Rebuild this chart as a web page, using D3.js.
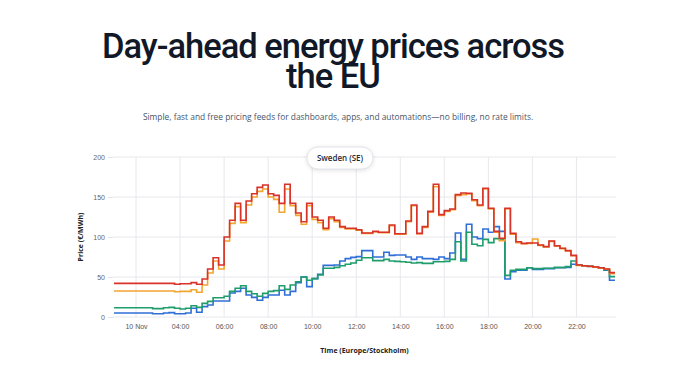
<!DOCTYPE html>
<html>
<head>
<meta charset="utf-8">
<script src="https://cdn.jsdelivr.net/npm/d3@7"></script>
<style>
  body { margin: 0; background: #fff; font-family: "Open Sans", sans-serif; }
</style>
</head>
<body>
<div id="chart"></div>
<script>
// Data: day-ahead prices, 15 minute steps starting 01:00 (hours on the axis)
const zones = ["SE1", "SE2", "SE3", "SE4"];
const colors = ["#2f6fd6", "#1f9d6b", "#f2a531", "#d9322b"];
const startHour = 1;
const stepHours = 0.25;

const se4 = [42,42,42,42,42,42,42,42,42,42,42,41,41.5,41.5,43,41,
  47.5,60,74,65,100,121,142,121,145,154,162,165,154,152,142,166,142,130,119,142,
  125,121,111,125,121,113,111,111,109,105,105,107,106,106,115,104,104,
  120,140,104.5,113,132,166,128,133,135,153,155,154.5,146.5,140,161,136,107,98.5,136,
  104.5,94,92,92.5,92.5,90,88,95,89,86,83,77,65,64,63.5,62.5,61.5,60,55.5,55.5];
const se3 = [32.5,32.5,32.5,32.5,32.5,32.5,32.5,32.5,32.5,32.5,32.5,31.5,32,32,34,31,
  40,55,70,60,95,117,138,118,140,150,157,160,150,147,131,160,139,127,116,139,
  122,118,109,123,119,112,110,110,108.5,104.5,104.5,106.5,105.5,105.5,114,103.5,103.5,
  119,139,104,112,131,163,127,132,134,152,153,154,145.5,139,160,135,106,95.5,135,
  103.5,93,91.5,92,97.5,89.5,87.5,94.5,88.5,85.5,82.5,76.5,64.5,63.8,63.2,62.3,61.3,59.8,54,54];
const se2 = [11.5,11.5,11.5,11.5,11.5,11.5,11.5,10.5,10.5,11.5,12,11,10,11,14,12,
  17,19.5,24,24,26,32,36,39,32,29,26,29.5,32,33,39,34.5,40,44,50,46,
  48,52.5,61,61,62,64,66,67.5,71,74,74,70.5,70.5,72,70,69.5,69,
  68.5,67.5,68,67,67,69,69,69.5,72,94,70,106,91,89,97,93,98,96.5,52,
  58.5,59.5,59.5,61.5,60.5,60.5,61,61,62,62,63,70,65,64,63.5,62.5,61.5,59,50.5,50.5];
const se1 = [5,5,5,5,5,5,5,4,4,5,5.5,4,4,5,11,6,
  13,15,20,20,20,30,32,36,27.5,24.5,21,24.5,27.5,27.5,33.5,27.5,32,43,50,38,
  48,53.5,64.5,64.5,65,70,73,74.5,75.5,83,83,75,75,81,77,77.5,77.5,
  75,72,75,73,73,72,75,73,80,105,72,116,100,98,110,106,113,107,47.5,
  56.5,58.5,58.5,61.5,59.5,59.5,60.5,60.5,61.5,61.5,62,66,64.8,63.8,63.3,62.3,61.3,58.5,46,46];

const xTickHours = [2, 4, 6, 8, 10, 12, 14, 16, 18, 20, 22];
const xTickLabels = ["10 Nov", "04:00", "06:00", "08:00", "10:00", "12:00", "14:00", "16:00", "18:00", "20:00", "22:00"];
const yTicks = [0, 50, 100, 150, 200];

const W = 700, H = 371;
const plot = { left: 114, right: 615, top: 157, bottom: 317 };

const svg = d3.select("#chart").append("svg")
  .attr("width", W)
  .attr("height", H);

// Header
["Day-ahead energy prices across", "the EU"].forEach((t, i) => {
  svg.append("text")
    .attr("x", 333).attr("y", 58 + i * 30)
    .attr("text-anchor", "middle")
    .attr("fill", "#111827")
    .style("font-family", "Roboto, sans-serif")
    .style("font-size", "34.5px").style("font-weight", 500)
    .style("letter-spacing", "-1px")
    .text(t);
});
svg.append("text")
  .attr("x", 338).attr("y", 120)
  .attr("text-anchor", "middle")
  .attr("fill", "#475569")
  .style("font-size", "8.4px")
  .text("Simple, fast and free pricing feeds for dashboards, apps, and automations\u2014no billing, no rate limits.");

const series = [se1, se2, se3, se4];
const times = se1.map((_, i) => startHour + i * stepHours);

const x = d3.scaleLinear()
  .domain([times[0], times[times.length - 1]])
  .range([plot.left, plot.right]);

const y = d3.scaleLinear()
  .domain([0, 200])
  .range([plot.bottom, plot.top]);

const g = svg.append("g");

// Grid
g.append("g")
  .selectAll("line")
  .data(yTicks)
  .enter().append("line")
  .attr("x1", plot.left - 1).attr("x2", plot.right + 1)
  .attr("y1", d => y(d)).attr("y2", d => y(d))
  .attr("stroke", "#e8e8ec").attr("stroke-width", 1);
g.append("g")
  .selectAll("line")
  .data(xTickHours)
  .enter().append("line")
  .attr("x1", d => x(d)).attr("x2", d => x(d))
  .attr("y1", plot.top).attr("y2", plot.bottom)
  .attr("stroke", "#e8e8ec").attr("stroke-width", 1);

// Y axis
const yAxis = g.append("g")
  .attr("transform", "translate(" + (plot.left - 1) + ",0)")
  .call(d3.axisLeft(y).tickValues(yTicks).tickSize(5).tickPadding(3));
yAxis.select(".domain").remove();
yAxis.selectAll(".tick line").attr("stroke", "#e3e3e8");
yAxis.selectAll("text").attr("fill", "#666").style("font-size", "7px");

// X axis
const xAxis = g.append("g")
  .attr("transform", "translate(0," + plot.bottom + ")")
  .call(d3.axisBottom(x).tickValues(xTickHours)
    .tickFormat((d, i) => xTickLabels[i]).tickSize(0).tickPadding(7));
xAxis.select(".domain").remove();
xAxis.selectAll("text").attr("fill", "#555").style("font-size", "7px");

// Axis titles
svg.append("text")
  .attr("transform", "translate(83," + ((plot.top + plot.bottom) / 2) + ") rotate(-90)")
  .attr("text-anchor", "middle")
  .attr("fill", "#222")
  .style("font-size", "7px").style("font-weight", 700)
  .text("Price (\u20AC/MWh)");
svg.append("text")
  .attr("x", (plot.left + plot.right) / 2).attr("y", 353)
  .attr("text-anchor", "middle")
  .attr("fill", "#222")
  .style("font-size", "7px").style("font-weight", 700)
  .text("Time (Europe/Stockholm)");

// Lines
const line = d3.line()
  .x((d, i) => x(times[i]))
  .y(d => y(d))
  .curve(d3.curveStepAfter);

g.selectAll(".series")
  .data(series)
  .enter().append("path")
  .attr("class", "series")
  .attr("fill", "none")
  .attr("stroke", (d, i) => colors[i])
  .attr("stroke-width", 1.6)
  .attr("d", line);

// Region pill
const pill = svg.append("g").attr("transform", "translate(340,158)");
pill.append("rect")
  .attr("x", -33).attr("y", -11)
  .attr("width", 66).attr("height", 22)
  .attr("rx", 11)
  .attr("fill", "#fff")
  .attr("stroke", "#e2e4ea")
  .style("filter", "drop-shadow(0 1px 2px rgba(0,0,0,0.12))");
pill.append("text")
  .attr("y", 3)
  .attr("text-anchor", "middle")
  .attr("fill", "#1f2937")
  .style("font-size", "8px").style("font-weight", 600)
  .text("Sweden (SE)");
</script>
</body>
</html>
